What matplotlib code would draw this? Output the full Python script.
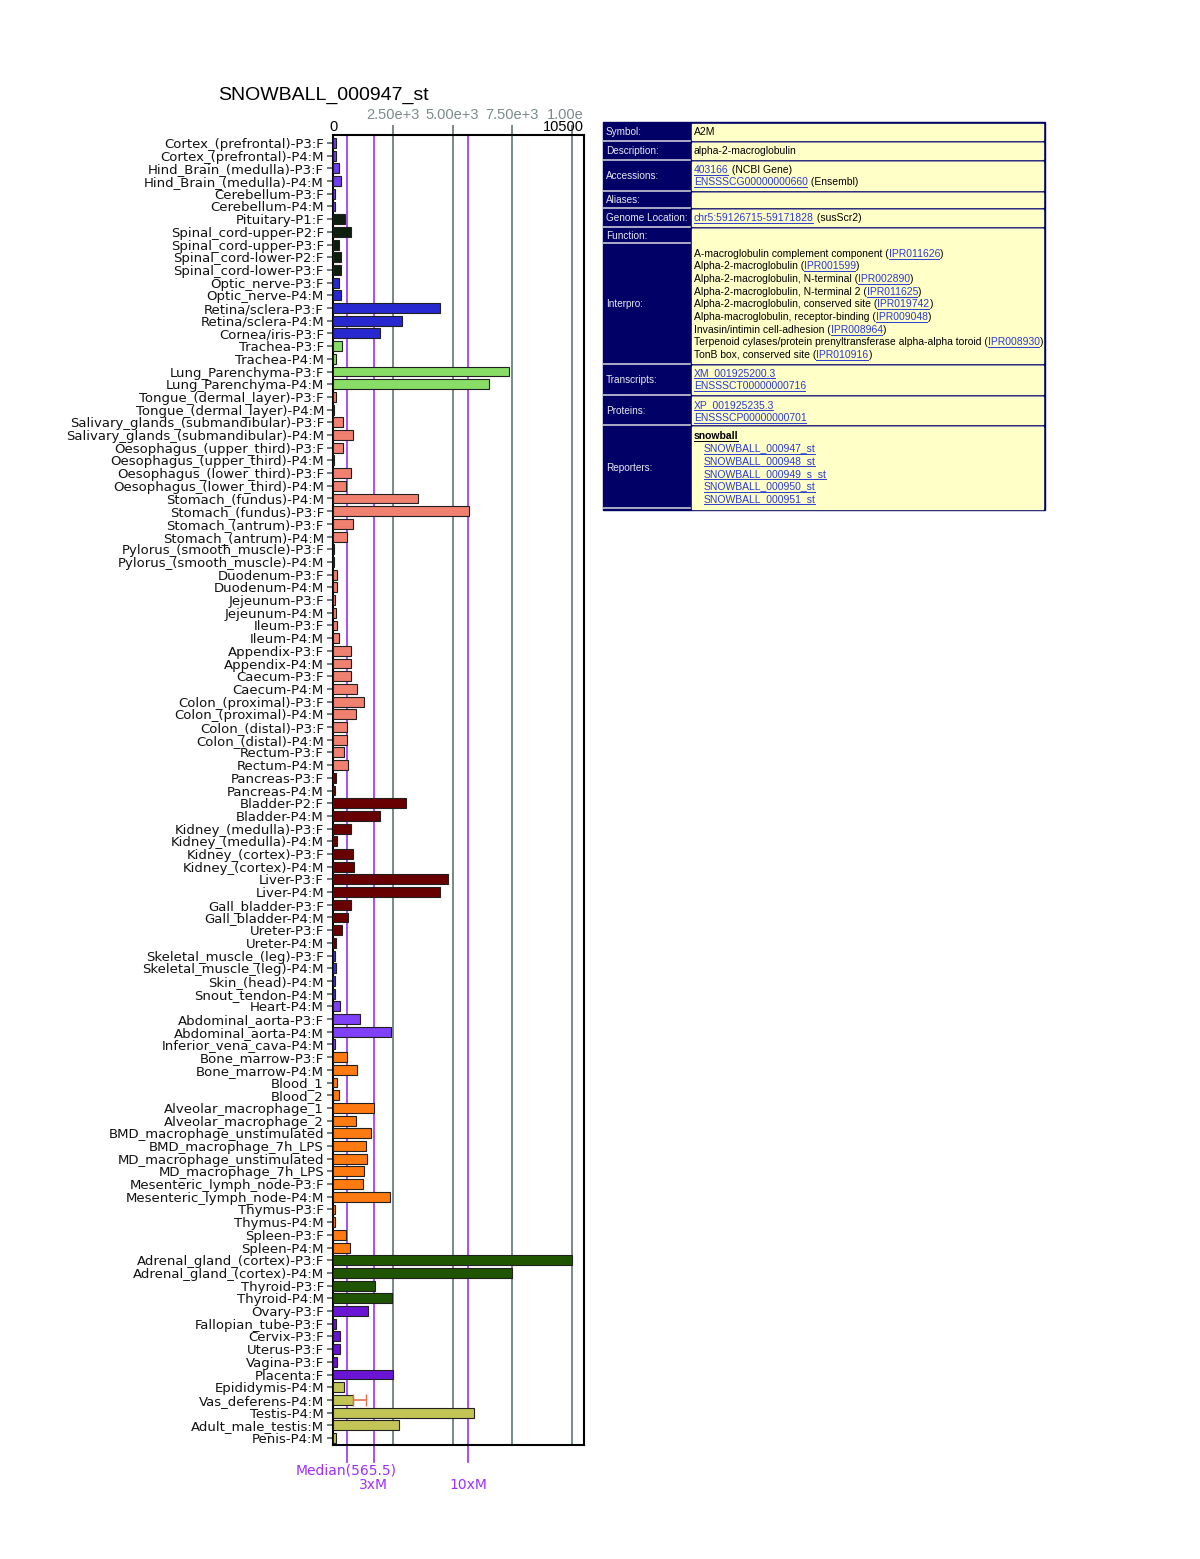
import numpy as np
import matplotlib.pyplot as plt
import matplotlib.transforms as mtransforms
from matplotlib.patches import Rectangle

plt.rcParams['font.family'] = ['Liberation Sans', 'DejaVu Sans']

# Образцы (сверху вниз)
samples = [
    "Cortex_(prefrontal)-P3:F", "Cortex_(prefrontal)-P4:M",
    "Hind_Brain_(medulla)-P3:F", "Hind_Brain_(medulla)-P4:M",
    "Cerebellum-P3:F", "Cerebellum-P4:M", "Pituitary-P1:F",
    "Spinal_cord-upper-P2:F", "Spinal_cord-upper-P3:F",
    "Spinal_cord-lower-P2:F", "Spinal_cord-lower-P3:F",
    "Optic_nerve-P3:F", "Optic_nerve-P4:M", "Retina/sclera-P3:F",
    "Retina/sclera-P4:M", "Cornea/iris-P3:F", "Trachea-P3:F", "Trachea-P4:M",
    "Lung_Parenchyma-P3:F", "Lung_Parenchyma-P4:M",
    "Tongue_(dermal_layer)-P3:F", "Tongue_(dermal_layer)-P4:M",
    "Salivary_glands_(submandibular)-P3:F", "Salivary_glands_(submandibular)-P4:M",
    "Oesophagus_(upper_third)-P3:F", "Oesophagus_(upper_third)-P4:M",
    "Oesophagus_(lower_third)-P3:F", "Oesophagus_(lower_third)-P4:M",
    "Stomach_(fundus)-P4:M", "Stomach_(fundus)-P3:F",
    "Stomach_(antrum)-P3:F", "Stomach_(antrum)-P4:M",
    "Pylorus_(smooth_muscle)-P3:F", "Pylorus_(smooth_muscle)-P4:M",
    "Duodenum-P3:F", "Duodenum-P4:M", "Jejeunum-P3:F", "Jejeunum-P4:M",
    "Ileum-P3:F", "Ileum-P4:M", "Appendix-P3:F", "Appendix-P4:M",
    "Caecum-P3:F", "Caecum-P4:M", "Colon_(proximal)-P3:F", "Colon_(proximal)-P4:M",
    "Colon_(distal)-P3:F", "Colon_(distal)-P4:M", "Rectum-P3:F", "Rectum-P4:M",
    "Pancreas-P3:F", "Pancreas-P4:M", "Bladder-P2:F", "Bladder-P4:M",
    "Kidney_(medulla)-P3:F", "Kidney_(medulla)-P4:M",
    "Kidney_(cortex)-P3:F", "Kidney_(cortex)-P4:M", "Liver-P3:F", "Liver-P4:M",
    "Gall_bladder-P3:F", "Gall_bladder-P4:M", "Ureter-P3:F", "Ureter-P4:M",
    "Skeletal_muscle_(leg)-P3:F", "Skeletal_muscle_(leg)-P4:M",
    "Skin_(head)-P4:M", "Snout_tendon-P4:M", "Heart-P4:M",
    "Abdominal_aorta-P3:F", "Abdominal_aorta-P4:M", "Inferior_vena_cava-P4:M",
    "Bone_marrow-P3:F", "Bone_marrow-P4:M", "Blood_1", "Blood_2",
    "Alveolar_macrophage_1", "Alveolar_macrophage_2",
    "BMD_macrophage_unstimulated", "BMD_macrophage_7h_LPS",
    "MD_macrophage_unstimulated", "MD_macrophage_7h_LPS",
    "Mesenteric_lymph_node-P3:F", "Mesenteric_lymph_node-P4:M",
    "Thymus-P3:F", "Thymus-P4:M", "Spleen-P3:F", "Spleen-P4:M",
    "Adrenal_gland_(cortex)-P3:F", "Adrenal_gland_(cortex)-P4:M",
    "Thyroid-P3:F", "Thyroid-P4:M", "Ovary-P3:F", "Fallopian_tube-P3:F",
    "Cervix-P3:F", "Uterus-P3:F", "Vagina-P3:F", "Placenta:F",
    "Epididymis-P4:M", "Vas_deferens-P4:M", "Testis-P4:M",
    "Adult_male_testis:M", "Penis-P4:M",
]

values = [
    125, 125, 235, 320, 70, 70, 485, 735, 250, 320, 320,
    235, 320, 4480, 2900, 1955, 360, 110, 7350, 6530,
    125, 55, 415, 820, 415, 55, 735, 525, 3535, 5670,
    820, 595, 55, 55, 165, 180, 85, 125, 165, 235,
    735, 760, 760, 1010, 1300, 945, 580, 595, 470, 640,
    125, 70, 3065, 1955, 735, 180, 830, 890, 4825, 4480,
    735, 610, 375, 125, 85, 125, 85, 85, 305,
    1125, 2415, 85, 595, 1010, 165, 235, 1720, 945,
    1610, 1360, 1415, 1300, 1235, 2370, 85, 85, 525, 720,
    10000, 7490, 1750, 2480, 1470, 110, 305, 305, 165, 2510,
    470, 820, 5880, 2760, 110,
]

# Группы тканей: (число образцов, цвет)
groups = [
    (6, "#6f3ff0"),   # мозг
    (5, "#0d1f0d"),   # гипофиз, спинной мозг
    (5, "#2828d0"),   # глаз
    (4, "#88dd66"),   # трахея, лёгкое
    (30, "#f08070"),  # ЖКТ
    (14, "#680000"),  # поджелудочная, почки, печень
    (4, "#3a30d0"),   # мышцы, кожа
    (4, "#7f40f8"),   # сердце, сосуды
    (16, "#ff7a10"),  # кровь, иммунные
    (4, "#1f5500"),   # надпочечник, щитовидная
    (6, "#6a14d4"),   # женские органы
    (5, "#c2c455"),   # мужские органы
]

err_sample = "Vas_deferens-P4:M"
err_value = 540

median = 565.5
x_max = 10500
grid_vals = [2500, 5000, 7500, 10000]
grid_labels = ["2.50e+3", "5.00e+3", "7.50e+3", "1.00e"]

colors = []
for cnt, c in groups:
    colors += [c] * cnt

n = len(samples)
y = np.arange(n)
wide = ['DejaVu Sans']

fig = plt.figure(figsize=(12, 15.59), dpi=100)
W, H = 1200, 1559
ax = fig.add_axes([333 / W, 1 - 1445 / H, (584 - 333) / W, (1445 - 135) / H])

for g in grid_vals:
    ax.axvline(g, color="#6e7f80", lw=1.3, zorder=1)
for m in [median, 3 * median, 10 * median]:
    ax.axvline(m, color="#9b30ff", lw=1.2, zorder=1)

ax.barh(y, values, height=0.78, color=colors, edgecolor="#202020", linewidth=0.8, zorder=3)
i_err = samples.index(err_sample)
ax.errorbar(values[i_err], i_err, xerr=[[0], [err_value]], fmt="none",
            ecolor="#e0704a", elinewidth=1.2, capsize=4, zorder=4)

ax.set_xlim(0, x_max)
ax.set_ylim(n - 1 + 0.55, -0.63)
ax.set_yticks(y)
ax.set_yticklabels(samples, fontsize=9.5, family=wide, color="#111111")
ax.tick_params(axis="y", length=4.5, width=1.2, color="#556666", pad=2)
ax.set_xticks(grid_vals)
ax.tick_params(axis="x", bottom=False, labelbottom=False, top=True, labeltop=False,
               length=7, width=1.3, color="#6e7f80", direction="out")
for s in ax.spines.values():
    s.set_color("black")
    s.set_linewidth(1.5)

trans = mtransforms.blended_transform_factory(ax.transData, ax.transAxes)
# верхние подписи оси
ax.text(0, 1.0061, "0", transform=trans, ha="center", va="center", fontsize=10.5)
ax.text(x_max, 1.0061, "10500", transform=trans, ha="right", va="center", fontsize=10.5)
for g, lab in zip(grid_vals[:-1], grid_labels[:-1]):
    ax.text(g, 1.0153, lab, transform=trans, ha="center", va="center",
            fontsize=10.5, color="#7a8a8a")
ax.text(x_max, 1.0153, grid_labels[-1], transform=trans, ha="right", va="center",
        fontsize=10.5, color="#7a8a8a")

# линии медианы под осью
for m in [median, 3 * median, 10 * median]:
    ax.plot([m, m], [0, -0.013], transform=trans, color="#9b30ff", lw=1.2, clip_on=False)
ax.text(median, -0.0195, "Median(%.1f)" % median, transform=trans, ha="center",
        va="center", fontsize=10, color="#9b30ff", family=wide)
ax.text(3 * median, -0.0302, "3xM", transform=trans, ha="center", va="center",
        fontsize=10, color="#9b30ff", family=wide)
ax.text(10 * median, -0.0302, "10xM", transform=trans, ha="center", va="center",
        fontsize=10, color="#9b30ff", family=wide)

fig.text(218 / W, 1 - 95 / H, "SNOWBALL_000947_st", fontsize=14, ha="left", va="center")

# Информационная таблица справа
ov = fig.add_axes([0, 0, 1, 1], zorder=-1)
ov.set_xlim(0, W)
ov.set_ylim(H, 0)
ov.axis("off")

navy = "#000066"
yellow = "#ffffc8"
link = "#2a3ad0"
x0, xm, x1 = 603, 690, 1045
rows = [
    ("Symbol:", 122, 141), ("Description:", 141, 160), ("Accessions:", 160, 191),
    ("Aliases:", 191, 208), ("Genome Location:", 208, 227), ("Function:", 227, 243),
    ("Interpro:", 243, 364), ("Transcripts:", 364, 395), ("Proteins:", 395, 425),
    ("Reporters:", 425, 510),
]
ov.add_patch(Rectangle((x0, 122), x1 - x0, 510 - 122, color=navy))
for lab, t, b in rows:
    if lab == "Function:":
        continue
    top = 227 if lab == "Interpro:" else t
    ov.add_patch(Rectangle((xm + 2, top + 2), x1 - xm - 4, b - top - 3, color=yellow))
for lab, t, b in rows:
    ov.text(x0 + 3, (t + b) / 2 + 0.5, lab, color="#e8e8f0", fontsize=7.2, va="center")
    if t > 122:
        ov.plot([x0, xm], [t, t], color="#c8c8d8", lw=1.2)
        if lab != "Interpro:":
            ov.plot([xm + 2, x1 - 2], [t + 1, t + 1], color="#a0a0b0", lw=0.6)
ov.plot([x0, xm], [508, 508], color="#c8c8d8", lw=1.2)

renderer = fig.canvas.get_renderer()


def rich(x, yy, parts):
    for txt, st in parts:
        col = link if st == "l" else "black"
        t = ov.text(x, yy, txt, color=col, fontsize=7.5, va="center",
                    fontweight="bold" if st == "b" else "normal")
        w = t.get_window_extent(renderer).width
        if st in ("l", "b"):
            ov.plot([x, x + w - 1], [yy + 5, yy + 5], color=col, lw=0.7)
        x += w


tx = 694
rich(tx, 132, [("A2M", "n")])
rich(tx, 151, [("alpha-2-macroglobulin", "n")])
rich(tx, 170, [("403166", "l"), (" (NCBI Gene)", "n")])
rich(tx, 182, [("ENSSSCG00000000660", "l"), (" (Ensembl)", "n")])
rich(tx, 218, [("chr5:59126715-59171828", "l"), (" (susScr2)", "n")])

interpro = [
    ("A-macroglobulin complement component", "IPR011626"),
    ("Alpha-2-macroglobulin", "IPR001599"),
    ("Alpha-2-macroglobulin, N-terminal", "IPR002890"),
    ("Alpha-2-macroglobulin, N-terminal 2", "IPR011625"),
    ("Alpha-2-macroglobulin, conserved site", "IPR019742"),
    ("Alpha-macroglobulin, receptor-binding", "IPR009048"),
    ("Invasin/intimin cell-adhesion", "IPR008964"),
    ("Terpenoid cylases/protein prenyltransferase alpha-alpha toroid", "IPR008930"),
    ("TonB box, conserved site", "IPR010916"),
]
for k, (name, ipr) in enumerate(interpro):
    rich(tx, 253.5 + k * 12.7, [(name + " (", "n"), (ipr, "l"), (")", "n")])

rich(tx, 373, [("XM_001925200.3", "l")])
rich(tx, 386, [("ENSSSCT00000000716", "l")])
rich(tx, 405, [("XP_001925235.3", "l")])
rich(tx, 418, [("ENSSSCP00000000701", "l")])
rich(tx, 436, [("snowball", "b")])
reporters = ["SNOWBALL_000947_st", "SNOWBALL_000948_st", "SNOWBALL_000949_s_st",
             "SNOWBALL_000950_st", "SNOWBALL_000951_st"]
for k, r in enumerate(reporters):
    rich(704, 448.5 + k * 12.7, [(r, "l")])

plt.savefig("out.png", dpi=100)
